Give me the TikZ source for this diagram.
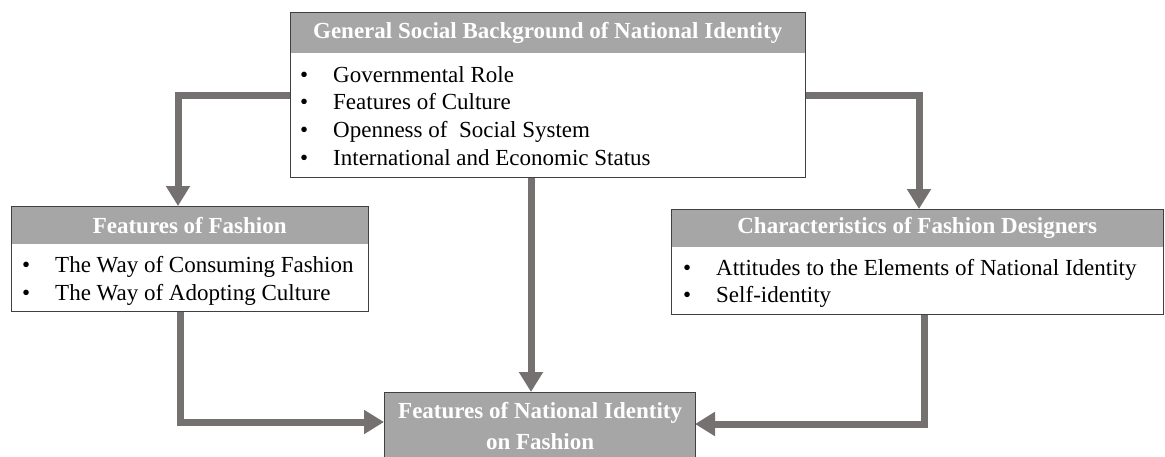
\documentclass[tikz,border=0pt]{standalone}
\usepackage{fontspec}
\setmainfont{Liberation Serif}
\usetikzlibrary{arrows.meta}
\definecolor{hdr}{HTML}{A6A6A6}
\definecolor{arr}{HTML}{767171}
\definecolor{bord}{HTML}{404040}
\begin{document}
\begin{tikzpicture}[x=1pt,y=-1pt,
  box/.style={draw=bord, line width=1.3pt, inner sep=0pt, anchor=north west},
  hdrbox/.style={fill=hdr, inner sep=0pt, anchor=north west, text=white,
    font=\fontsize{23}{28}\selectfont\bfseries},
  item/.style={anchor=base west, inner sep=0pt, font=\fontsize{23}{28}\selectfont},
  conn/.style={draw=arr, line width=7pt, line join=miter,
    -{Triangle[width=23pt,length=20pt]}}
]
\useasboundingbox[fill=white] (0,0) rectangle (1165,456);

% top box
\node[hdrbox, minimum width=515pt, minimum height=41pt] (toph) at (290,12) {General Social Background of National Identity};
\node[box, minimum width=515pt, minimum height=165pt] (top) at (290,12) {};
\foreach \t [count=\i from 0] in {Governmental Role, Features of Culture, Openness of\ \ Social System, International and Economic Status}{
  \node[item] (tb\i) at (300,82+27.9*\i) {\textbullet};
  \node[item] (tt\i) at (333,82+27.9*\i) {\t};
}

% left box
\node[hdrbox, minimum width=357pt, minimum height=38pt] (lefth) at (11,206) {Features of Fashion};
\node[box, minimum width=357pt, minimum height=105pt] (left) at (11,206) {};
\foreach \t [count=\i from 0] in {The Way of Consuming Fashion, The Way of Adopting Culture}{
  \node[item] (lb\i) at (22,272+28*\i) {\textbullet};
  \node[item] (lt\i) at (55,272+28*\i) {\t};
}

% right box
\node[hdrbox, minimum width=492pt, minimum height=38pt] (righth) at (671,209) {Characteristics of Fashion Designers};
\node[box, minimum width=492pt, minimum height=105pt] (right) at (671,209) {};
\foreach \t [count=\i from 0] in {Attitudes to the Elements of National Identity, Self-identity}{
  \node[item] (rb\i) at (683,275+27*\i) {\textbullet};
  \node[item] (rt\i) at (716,275+27*\i) {\t};
}

% bottom box
\node[box, fill=hdr, text=white, align=center, minimum width=311pt, minimum height=66pt,
  font=\fontsize{23}{31}\selectfont\bfseries] (bot) at (384,392) {Features of National Identity\\on Fashion};

% connectors
\coordinate (la) at (178,206);
\coordinate (ra) at (919,209);
\coordinate (ca) at (531,392);
\coordinate (lx) at (180,0);
\coordinate (rx) at (924,0);
\coordinate (bl) at (384,422);
\coordinate (br) at (695,424);
\draw[conn] (top.west) -| (la);
\draw[conn] (top.east) -| (ra);
\draw[conn] (ca |- top.south) -- (ca);
\draw[conn] (lx |- left.south) |- (bl);
\draw[conn] (rx |- right.south) |- (br);
\end{tikzpicture}
\end{document}
